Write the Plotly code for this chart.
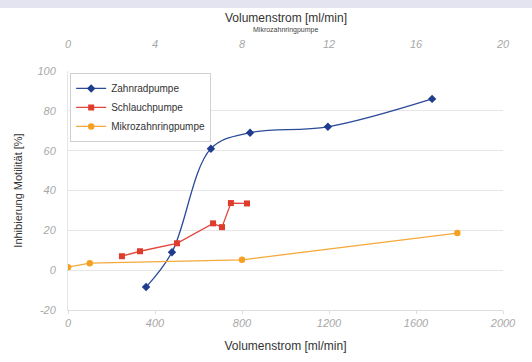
import plotly.graph_objects as go

# Data
zahnrad_x = [359, 478, 657, 837, 1195, 1674]
zahnrad_y = [-8.5, 9, 61, 69, 72, 86]

schlauch_x = [248, 331, 501, 667, 708, 749, 823]
schlauch_y = [7, 9.5, 13.5, 23.5, 21.6, 33.7, 33.5]

mikro_x = [0, 1.0, 8.0, 17.9]   # ml/min, top axis
mikro_y = [1.5, 3.5, 5.2, 18.6]

bottom_ticks = [0, 400, 800, 1200, 1600, 2000]
top_ticks = [0, 4, 8, 12, 16, 20]
y_ticks = [-20, 0, 20, 40, 60, 80, 100]

FONT = "Liberation Sans, Arial, sans-serif"
TICKFONT = dict(family=FONT, size=11, color="#a8a8a8", style="italic")

fig = go.Figure()
fig.add_trace(go.Scatter(
    x=zahnrad_x, y=zahnrad_y, name="Zahnradpumpe", mode="lines+markers",
    line=dict(color="#2b4a9a", width=1.3, shape="spline", smoothing=1.0),
    marker=dict(symbol="diamond", size=6.5, color="#1f3c8f")))
fig.add_trace(go.Scatter(
    x=schlauch_x, y=schlauch_y, name="Schlauchpumpe", mode="lines+markers",
    line=dict(color="#e2463a", width=1.3),
    marker=dict(symbol="square", size=6, color="#e03c2c")))
fig.add_trace(go.Scatter(
    x=mikro_x, y=mikro_y, name="Mikrozahnringpumpe", mode="lines+markers",
    xaxis="x2",
    line=dict(color="#f5a93a", width=1.3),
    marker=dict(symbol="circle", size=6.5, color="#f5a020")))

fig.update_layout(
    width=532, height=362,
    margin=dict(l=68, r=29, t=71, b=52),
    paper_bgcolor="white", plot_bgcolor="white",
    font=dict(family=FONT, color="#333"),
    showlegend=True,
    legend=dict(x=0.005, y=0.992, xanchor="left", yanchor="top",
                bgcolor="white", bordercolor="#d0d0d0", borderwidth=1,
                font=dict(family=FONT, size=10, color="#333"),
                tracegroupgap=0, itemwidth=30),
    xaxis=dict(range=[0, 2000], tickvals=bottom_ticks, ticktext=[str(v) for v in bottom_ticks],
               showgrid=False, zeroline=False, showline=True, linecolor="#dddddd",
               ticks="outside", ticklen=3, tickcolor="#dddddd",
               tickfont=TICKFONT, automargin=False,
               title=dict(text="Volumenstrom [ml/min]", font=dict(family=FONT, size=12, color="#333"),
                          standoff=13)),
    xaxis2=dict(range=[0, 20], overlaying="x", side="top", tickvals=top_ticks,
                ticktext=[str(v) for v in top_ticks],
                showgrid=False, zeroline=False, showline=False, automargin=False,
                ticks="", tickfont=TICKFONT, ticklabelstandoff=20),
    yaxis=dict(range=[-20, 100], tickvals=y_ticks, ticktext=[str(v) for v in y_ticks],
               showgrid=True, gridcolor="#e6e6e6", gridwidth=1, zeroline=False,
               showline=True, linecolor="#e6e6e6", automargin=False,
               tickfont=TICKFONT, ticks="", ticklabelstandoff=9,
               title=dict(text="Inhibierung Motilität [%]", font=dict(family=FONT, size=11, color="#333"),
                          standoff=12)),
    shapes=[dict(type="rect", xref="paper", yref="paper",
                 x0=-68/435, x1=1 + 29/435, y0=1 + 63/239, y1=1 + 71/239,
                 fillcolor="#e4e4f0", line=dict(width=0), layer="above")],
    annotations=[
        dict(text="Volumenstrom [ml/min]", xref="paper", yref="paper", x=0.5, y=1 + 53/239,
             xanchor="center", yanchor="middle", showarrow=False,
             font=dict(family=FONT, size=12, color="#333")),
        dict(text="Mikrozahnringpumpe", xref="paper", yref="paper", x=0.5, y=1 + 41/239,
             xanchor="center", yanchor="middle", showarrow=False,
             font=dict(family=FONT, size=7, color="#444")),
    ],
)

fig.write_html("out.html", config={"displayModeBar": False},
               post_script="document.body.style.margin='0';document.body.style.padding='0';")
